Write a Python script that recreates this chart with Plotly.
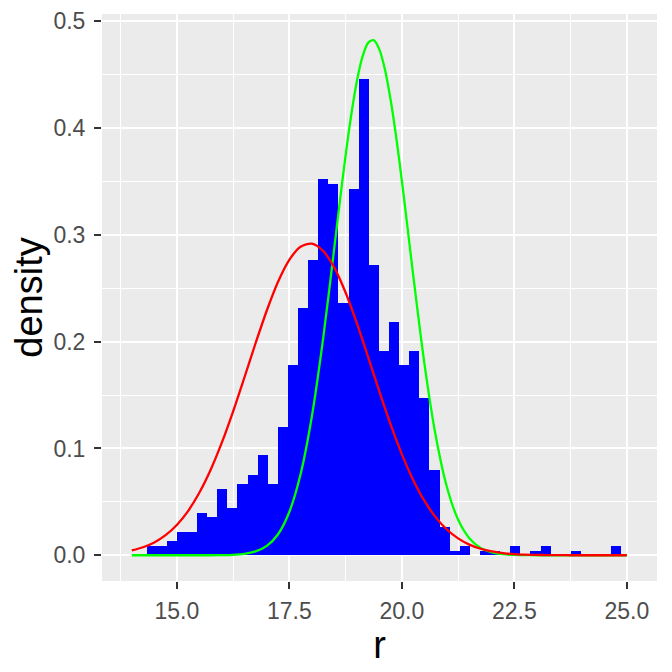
import numpy as np
import plotly.graph_objects as go

# histogram: 47 bins starting at 14.327, width 0.2245
bin_start = 14.327
bin_width = 0.2245
bar_density = [
    0.0084, 0.0084, 0.0131, 0.0216, 0.0216, 0.0394, 0.0359, 0.0619, 0.0444, 0.0665,
    0.0750, 0.0937, 0.0665, 0.1200, 0.1780, 0.2315, 0.2765, 0.3524, 0.3477, 0.2360,
    0.3430, 0.4460, 0.2718, 0.1910, 0.2180, 0.1780, 0.1910, 0.1470, 0.0797, 0.0260,
    0.0040, 0.0087, 0.0, 0.0040, 0.0040, 0.0, 0.0087, 0.0, 0.0040, 0.0087,
    0.0, 0.0, 0.0040, 0.0, 0.0, 0.0, 0.0087,
]

# red density curve, sampled every 0.25 from 14 to 25
red_x = [14.0 + 0.25 * i for i in range(45)]
red_density = [
    0.0045, 0.0075, 0.0120, 0.0188, 0.0284, 0.0414, 0.0585, 0.0798, 0.1054, 0.1346,
    0.1662, 0.1985, 0.2292, 0.2561, 0.2766, 0.2889, 0.2918, 0.2850, 0.2693, 0.2460,
    0.2173, 0.1857, 0.1534, 0.1225, 0.0947, 0.0708, 0.0511, 0.0357, 0.0241, 0.0158,
    0.0100, 0.0061, 0.0036, 0.0021, 0.0011, 0.0006, 0.0003, 0.0002, 0.0001, 0.0,
    0.0, 0.0, 0.0, 0.0, 0.0,
]

# green density curve, denser samples round the peak
green_x = [
    14.0, 14.5, 15.0, 15.5, 15.75, 16.0, 16.25, 16.5, 16.75, 17.0,
    17.25, 17.5, 17.75, 18.0, 18.25, 18.5, 18.625, 18.75, 18.875, 19.0,
    19.125, 19.25, 19.375, 19.5, 19.625, 19.75, 19.875, 20.0, 20.125, 20.25,
    20.5, 20.75, 21.0, 21.25, 21.5, 21.75, 22.0, 22.25, 22.5, 22.75,
    23.0, 23.5, 24.0, 24.5, 25.0,
]
green_density = [
    0.0, 0.0, 0.0, 0.0, 0.0, 0.0001, 0.0004, 0.0013, 0.0036, 0.0088,
    0.0197, 0.0405, 0.0758, 0.1297, 0.2023, 0.2880, 0.3320, 0.3741, 0.4120, 0.4436,
    0.4666, 0.4798, 0.4823, 0.4737, 0.4549, 0.4268, 0.3915, 0.3509, 0.3075, 0.2633,
    0.1802, 0.1126, 0.0642, 0.0334, 0.0159, 0.0069, 0.0027, 0.0010, 0.0003, 0.0001,
    0.0, 0.0, 0.0, 0.0, 0.0,
]

x_ticks = [15.0, 17.5, 20.0, 22.5, 25.0]
x_minor = [13.75, 16.25, 18.75, 21.25, 23.75]
y_ticks = [0.0, 0.1, 0.2, 0.3, 0.4, 0.5]
y_minor = [0.05, 0.15, 0.25, 0.35, 0.45]

bar_x = bin_start + bin_width * (np.arange(len(bar_density)) + 0.5)

fig = go.Figure()

fig.add_trace(go.Bar(
    x=bar_x, y=bar_density, width=bin_width,
    marker=dict(color='#0000FF', line=dict(width=0)),
    showlegend=False
))

fig.add_trace(go.Scatter(
    x=green_x, y=green_density, mode='lines',
    line=dict(color='#00FF00', width=2.3, shape='spline', smoothing=0.8),
    showlegend=False
))

fig.add_trace(go.Scatter(
    x=red_x, y=red_density, mode='lines',
    line=dict(color='#FF0000', width=2.3, shape='spline', smoothing=0.8),
    showlegend=False
))

axis_common = dict(
    automargin=False,
    showline=False, zeroline=False,
    showgrid=True, gridcolor='white', gridwidth=2.1,
    ticks='outside', ticklen=7, tickwidth=2, tickcolor='#333333',
    tickfont=dict(family='Liberation Sans, Arial', size=23, color='#4D4D4D'),
)

# the page body adds an 8px offset, so margins are shifted to compensate
fig.update_layout(
    width=672, height=672,
    margin=dict(l=94, r=23, t=6, b=99),
    paper_bgcolor='white',
    plot_bgcolor='#EBEBEB',
    bargap=0,
    xaxis=dict(
        range=[13.338, 25.67],
        tickvals=x_ticks, ticktext=['%.1f' % v for v in x_ticks],
        ticklabelstandoff=2,
        minor=dict(tickvals=x_minor, showgrid=True, gridcolor='white', gridwidth=1, ticks=''),
        title=dict(text='r', standoff=3,
                   font=dict(family='Liberation Sans, Arial', size=38, color='black')),
        **axis_common
    ),
    yaxis=dict(
        range=[-0.0241, 0.5068],
        tickvals=y_ticks, ticktext=['%.1f' % v for v in y_ticks],
        ticklabelstandoff=4,
        minor=dict(tickvals=y_minor, showgrid=True, gridcolor='white', gridwidth=1, ticks=''),
        title=dict(text='density', standoff=2,
                   font=dict(family='Liberation Sans, Arial', size=38, color='black')),
        **axis_common
    ),
)

fig.write_html("out.html")
